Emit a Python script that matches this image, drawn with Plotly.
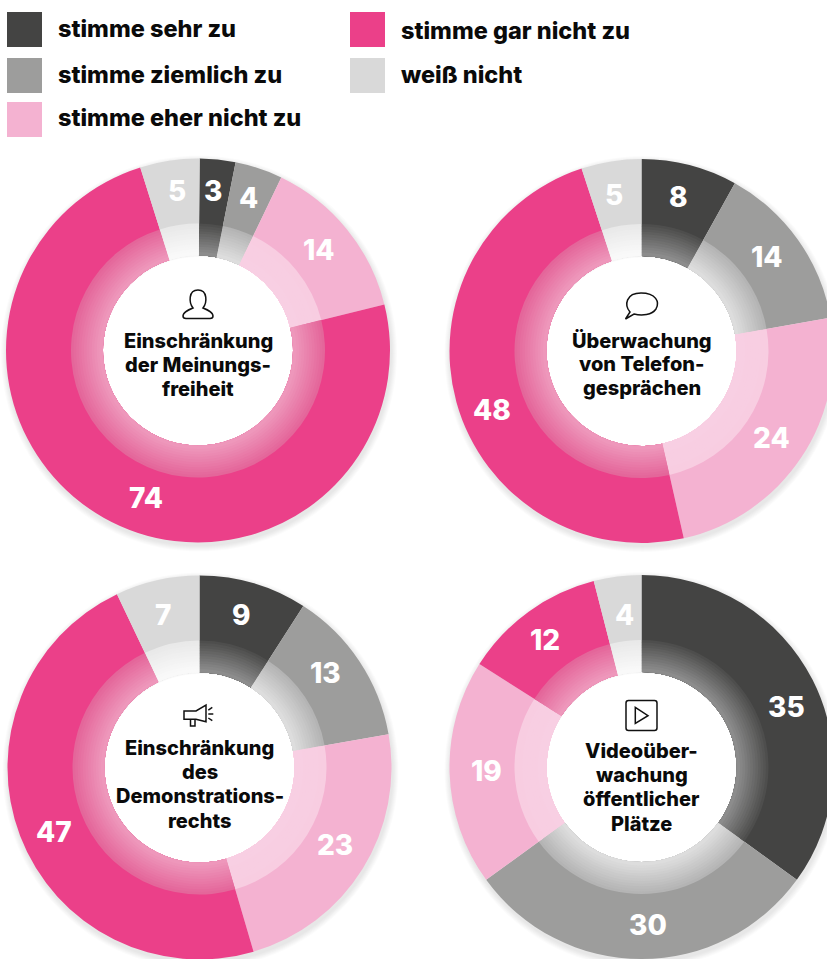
"""Vier Ringdiagramme zur Einschraenkung von Grundrechten."""

import math
import re

import plotly.graph_objects as go

# data
categories = ["stimme sehr zu", "stimme ziemlich zu", "stimme eher nicht zu",
              "stimme gar nicht zu", "weiß nicht"]
values_meinung = [3, 4, 14, 74, 5]
values_telefon = [8, 14, 24, 48, 5]
values_demo = [9, 13, 23, 47, 7]
values_video = [35, 30, 19, 12, 4]
title_meinung = ["Einschränkung", "der Meinungs-", "freiheit"]
title_telefon = ["Überwachung", "von Telefon-", "gesprächen"]
title_demo = ["Einschränkung", "des", "Demonstrations-", "rechts"]
title_video = ["Videoüber-", "wachung", "öffentlicher", "Plätze"]

# styles
COLORS = ["#444443", "#9d9d9c", "#f4b2d1", "#eb4089", "#d9d9d9"]
RING_OUTER = ["#4e4e4d", "#b4b4b4", "#f8cde1", "#e4669a", "#e9e9e9"]
RING_INNER = ["#8c8c8c", "#dddddd", "#f8cfe3", "#ee97bb", "#f9f9f9"]
FONT = "Inter"
W, H = 850, 975
R_OUT, R_RING, R_HOLE = 192, 127, 95
RING_STEPS = 12

# (cx, cy, values, title, first title line y, label nudges, rotation)
charts = [
    (198, 350.5, values_meinung, title_meinung, 341,
     [(0, 0), (1, 0), (-2, 1), (25, 7), (4, -1)], 0.5),
    (641.5, 351, values_telefon, title_telefon, 340,
     [(-3, 1), (-5, -1), (-3, -2), (5, 16), (-2, 2)], 0),
    (199.5, 767.5, values_demo, title_demo, 748,
     [(-3, 1), (-7, -6), (0, -7), (4, 7), (-1, 4)], 0),
    (641.5, 767, values_video, title_video, 751,
     [(2, 13), (6, -2), (5, -1), (-2, 2), (3, 7)], 0),
]


def px(x):
    return x / W


def py(y):
    return 1 - y / H


def blend(c1, c2, t):
    a = [int(c1[i:i + 2], 16) for i in (1, 3, 5)]
    b = [int(c2[i:i + 2], 16) for i in (1, 3, 5)]
    return "rgb(%d,%d,%d)" % tuple(round(p + (q - p) * t) for p, q in zip(a, b))


def paper_path(cmds):
    # pixel coordinates -> paper coordinates, numbers come in x y pairs
    nums = iter(range(10000))

    def conv(m):
        v = float(m.group())
        return f"{px(v):.5f}" if next(nums) % 2 == 0 else f"{py(v):.5f}"

    return re.sub(r"\d+\.?\d*", conv, cmds)


def pie(values, colors, cx, cy, r, hole, rotation=0):
    return go.Pie(
        values=values,
        marker=dict(colors=colors, line=dict(width=0)),
        domain=dict(x=[px(cx - r), px(cx + r)], y=[py(cy + r), py(cy - r)]),
        hole=hole,
        sort=False,
        direction="clockwise",
        rotation=rotation,
        textinfo="none",
        hoverinfo="skip",
        showlegend=False,
    )


fig = go.Figure()
annotations = []
shapes = []

for cx, cy, values, title, title_y, nudges, rot in charts:
    # soft drop shadow
    for i in range(6, 0, -1):
        fig.add_trace(pie([1], ["rgba(0,0,0,0.016)"], cx + 1, cy + 3, R_OUT + i, 0.5))
    fig.add_trace(pie(values, COLORS, cx, cy, R_OUT, R_HOLE / R_OUT, rot))
    # lighter inner ring, stepped for the radial gradient
    for i in range(RING_STEPS):
        t = i / (RING_STEPS - 1)
        r = R_RING - (R_RING - R_HOLE - 1) * i / RING_STEPS
        cols = [blend(a, b, t) for a, b in zip(RING_OUTER, RING_INNER)]
        fig.add_trace(pie(values, cols, cx, cy, r, R_HOLE / r, rot))

    # value labels at the middle of each slice
    total = sum(values)
    start = 0
    for v, (dx, dy) in zip(values, nudges):
        mid = (start + v / 2) / total * 2 * math.pi
        start += v
        annotations.append(dict(
            x=px(cx + 160 * math.sin(mid) + dx), y=py(cy - 160 * math.cos(mid) + dy),
            xref="paper", yref="paper", text=str(v), showarrow=False,
            xanchor="center", yanchor="middle",
            font=dict(family=FONT, size=28, color="white", weight=800),
        ))

    for i, line in enumerate(title):
        annotations.append(dict(
            x=px(cx), y=py(title_y + i * 24.2), xref="paper", yref="paper",
            text=line, showarrow=False, xanchor="center", yanchor="middle",
            font=dict(family=FONT, size=20, color="#0a0a0a", weight=800),
        ))

# legend
legend_x = [7, 7, 7, 350, 350]
legend_y = [12, 58, 102, 12, 58]
legend_text_y = [29, 75, 117, 30, 75]
for name, col, x, y, ty in zip(categories, COLORS, legend_x, legend_y, legend_text_y):
    shapes.append(dict(type="rect", xref="paper", yref="paper", x0=px(x), x1=px(x + 35),
                       y0=py(y + 35), y1=py(y), fillcolor=col, line_width=0))
    annotations.append(dict(
        x=px(x + 48.5), y=py(ty), xref="paper", yref="paper", text=name, showarrow=False,
        xanchor="left", yanchor="middle",
        font=dict(family=FONT, size=23.5, color="#0a0a0a", weight=800),
    ))

# icons
icons = [
    "M 193 308 C 189 303 188 290 198 290 C 208 290 207 303 203 308 C 208 310 213 312 213 316 "
    "C 213 318 212 318.5 210 318.5 L 186 318.5 C 184 318.5 183 318 183 316 C 183 312 188 310 193 308 Z",
    "M 630 312 C 624 305 626 293 641 293 C 656 293 660 302 656 309 C 652 315 642 316 634 314 "
    "L 625.5 319 Z",
    "M 184 711 L 196 711 L 206 705 L 206 721.7 L 196 719.3 L 184 719.3 Z",
    "M 190.5 719.3 L 190.5 726 L 195 726 L 195 719.3",
    "M 208.3 710 L 212.3 707.3",
    "M 208.3 714 L 213.3 714",
    "M 208.3 718 L 212.3 720.7",
    "M 628.5 700.5 L 654.5 700.5 C 656 700.5 657 701.5 657 703 L 657 728 C 657 729.5 656 730.5 654.5 730.5 "
    "L 628.5 730.5 C 627 730.5 626 729.5 626 728 L 626 703 C 626 701.5 627 700.5 628.5 700.5 Z",
    "M 635.3 707.3 L 648 715.7 L 635.3 723.3 Z",
]
for d in icons:
    shapes.append(dict(type="path", xref="paper", yref="paper", path=paper_path(d),
                       line=dict(color="#111111", width=1.5)))

fig.update_layout(
    width=W,
    height=H,
    margin=dict(l=0, r=0, t=0, b=0),
    paper_bgcolor="white",
    plot_bgcolor="white",
    annotations=annotations,
    shapes=shapes,
)
fig.write_html(
    "out.html",
    config=dict(displayModeBar=False),
    post_script="document.body.style.margin='0';document.body.style.overflow='hidden';"
                "document.documentElement.style.overflow='hidden';",
)
